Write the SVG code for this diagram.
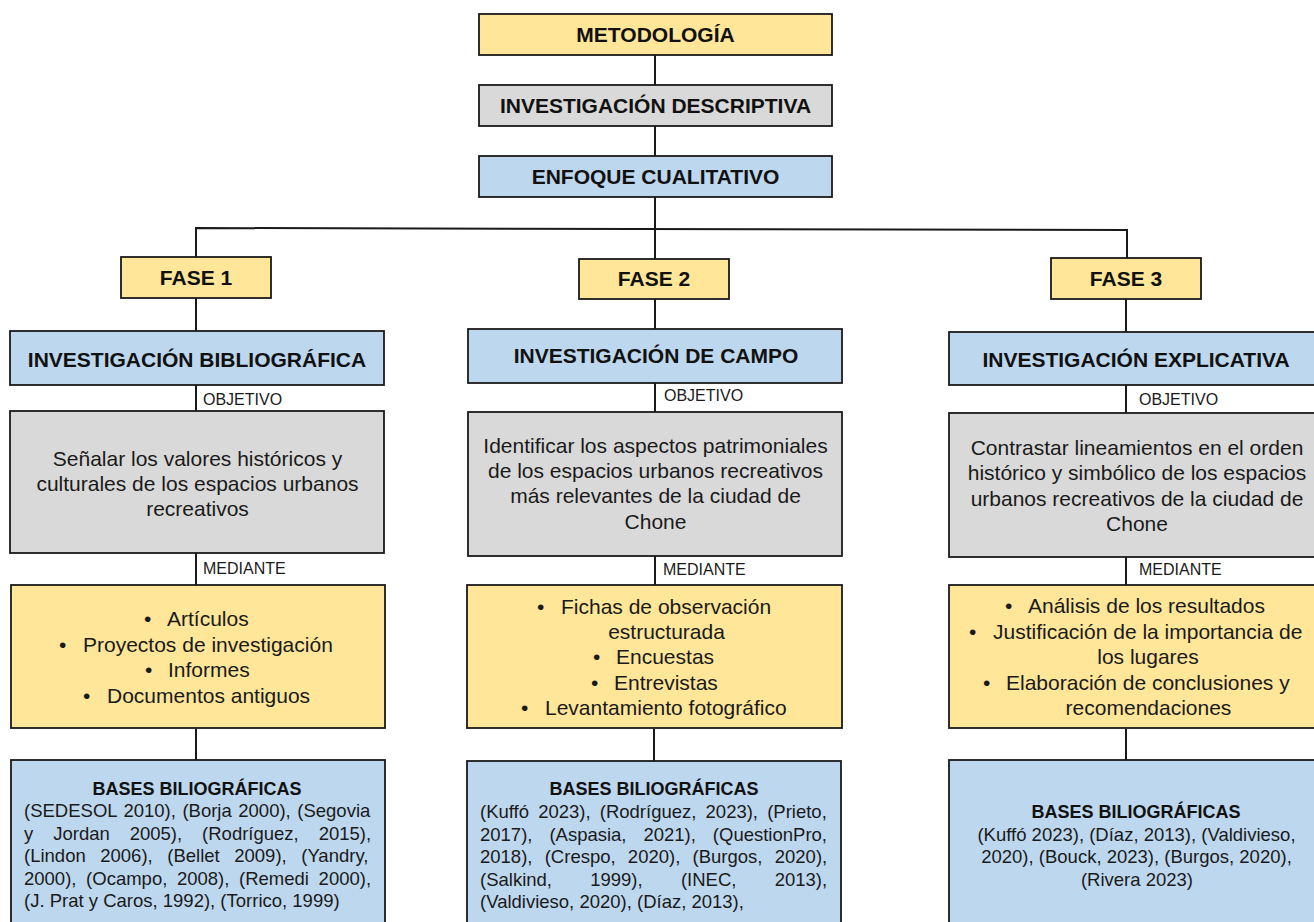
<svg xmlns="http://www.w3.org/2000/svg" width="1314" height="922" viewBox="0 0 1314 922">
<style>
.box{stroke:#1a1a1a;stroke-width:1.8}
.y{fill:#FFE699}.g{fill:#D9D9D9}.b{fill:#BDD7EE}
.h{font-family:"Liberation Sans",Arial,sans-serif;font-weight:bold;font-size:21px;fill:#111;text-anchor:middle}
.t{font-family:"Liberation Sans",Arial,sans-serif;font-size:21px;fill:#1a1a1a;text-anchor:middle}
.l{font-family:"Liberation Sans",Arial,sans-serif;font-size:21px;fill:#1a1a1a}
.s{font-family:"Liberation Sans",Arial,sans-serif;font-size:16px;fill:#1a1a1a}
.bt{font-family:"Liberation Sans",Arial,sans-serif;font-weight:bold;font-size:18px;fill:#111;text-anchor:middle}
.r{font-family:"Liberation Sans",Arial,sans-serif;font-size:18.5px;fill:#1a1a1a}
.conn{fill:none;stroke:#1a1a1a;stroke-width:2}
</style>
<rect width="1314" height="922" fill="#fff"/>
<g id="connectors" class="conn">
<path d="M655,55 V85 M655,126 V156 M655,197 V259"/>
<path d="M196,257 V228 L1127,230 V258"/>
<path d="M196,298 V331 M655,299 V329 M1126,299 V332"/>
<path d="M196,385 V411 M655,383 V412 M1126,385 V413"/>
<path d="M196,553 V585 M655,556 V585 M1126,557 V585"/>
<path d="M196,729 V760 M654,729 V761 M1126,729 V760"/>
</g>
<g id="metodologia"><rect class="box y" x="479" y="14" width="353" height="41"/><text class="h" x="655.5" y="41.5">METODOLOGÍA</text></g>
<g id="descriptiva"><rect class="box g" x="479" y="85" width="353" height="41"/><text class="h" x="655.5" y="112.5">INVESTIGACIÓN DESCRIPTIVA</text></g>
<g id="enfoque"><rect class="box b" x="479" y="156" width="353" height="41"/><text class="h" x="655.5" y="183.5">ENFOQUE CUALITATIVO</text></g>
<g id="fase1"><rect class="box y" x="121" y="257" width="150" height="41"/><text class="h" x="196" y="284.5">FASE 1</text></g>
<g id="fase2"><rect class="box y" x="579" y="259" width="150" height="40"/><text class="h" x="654" y="286">FASE 2</text></g>
<g id="fase3"><rect class="box y" x="1051" y="258" width="150" height="41"/><text class="h" x="1126" y="286">FASE 3</text></g>

<g id="inv-bibliografica"><rect class="box b" x="10" y="331" width="374" height="54"/><text class="h" x="197" y="366.5">INVESTIGACIÓN BIBLIOGRÁFICA</text></g>
<g id="inv-campo"><rect class="box b" x="468" y="329" width="374" height="54"/><text class="h" x="656" y="362.5">INVESTIGACIÓN DE CAMPO</text></g>
<g id="inv-explicativa"><rect class="box b" x="949" y="332" width="374" height="53"/><text class="h" x="1136" y="366.5">INVESTIGACIÓN EXPLICATIVA</text></g>

<g id="labels">
<text class="s" x="203" y="404.7">OBJETIVO</text>
<text class="s" x="664" y="400.7">OBJETIVO</text>
<text class="s" x="1139" y="404.7">OBJETIVO</text>
<text class="s" x="203" y="574">MEDIANTE</text>
<text class="s" x="663" y="575">MEDIANTE</text>
<text class="s" x="1139" y="575">MEDIANTE</text>
</g>

<g id="objetivo1"><rect class="box g" x="10" y="411" width="374" height="142"/>
<text class="t"><tspan x="197.5" y="466">Señalar los valores históricos y</tspan><tspan x="197.5" y="491">culturales de los espacios urbanos</tspan><tspan x="197.5" y="516">recreativos</tspan></text></g>
<g id="objetivo2"><rect class="box g" x="468" y="412" width="374" height="144"/>
<text class="t"><tspan x="655.5" y="453">Identificar los aspectos patrimoniales</tspan><tspan x="655.5" y="478">de los espacios urbanos recreativos</tspan><tspan x="655.5" y="503">más relevantes de la ciudad de</tspan><tspan x="655.5" y="529">Chone</tspan></text></g>
<g id="objetivo3"><rect class="box g" x="949" y="413" width="374" height="144"/>
<text class="t"><tspan x="1137" y="455">Contrastar lineamientos en el orden</tspan><tspan x="1137" y="480">histórico y simbólico de los espacios</tspan><tspan x="1137" y="506">urbanos recreativos de la ciudad de</tspan><tspan x="1137" y="531">Chone</tspan></text></g>

<g id="mediante1"><rect class="box y" x="11" y="585" width="374" height="143"/>
<text class="l"><tspan x="144" y="626">•</tspan><tspan x="167" y="626">Artículos</tspan></text>
<text class="l"><tspan x="59" y="652">•</tspan><tspan x="83" y="652">Proyectos de investigación</tspan></text>
<text class="l"><tspan x="145" y="677">•</tspan><tspan x="168" y="677">Informes</tspan></text>
<text class="l"><tspan x="83" y="703">•</tspan><tspan x="107" y="703">Documentos antiguos</tspan></text>
</g>
<g id="mediante2"><rect class="box y" x="467" y="585" width="375" height="143"/>
<text class="l"><tspan x="537" y="614">•</tspan><tspan x="561" y="614">Fichas de observación</tspan></text>
<text class="t" x="666.5" y="639">estructurada</text>
<text class="l"><tspan x="593" y="664">•</tspan><tspan x="616" y="664">Encuestas</tspan></text>
<text class="l"><tspan x="591" y="690">•</tspan><tspan x="614" y="690">Entrevistas</tspan></text>
<text class="l"><tspan x="521" y="715">•</tspan><tspan x="545" y="715">Levantamiento fotográfico</tspan></text>
</g>
<g id="mediante3"><rect class="box y" x="949" y="585" width="374" height="143"/>
<text class="l"><tspan x="1005" y="613">•</tspan><tspan x="1028" y="613">Análisis de los resultados</tspan></text>
<text class="l"><tspan x="969" y="639">•</tspan><tspan x="993" y="639">Justificación de la importancia de</tspan></text>
<text class="t" x="1148" y="664">los lugares</text>
<text class="l"><tspan x="983" y="690">•</tspan><tspan x="1006" y="690">Elaboración de conclusiones y</tspan></text>
<text class="t" x="1148.5" y="715">recomendaciones</text>
</g>

<g id="bases1"><rect class="box b" x="11" y="760" width="374" height="172"/>
<text class="bt" x="197" y="794.5">BASES BILIOGRÁFICAS</text>
<text class="r" x="24" y="817" word-spacing="1.4">(SEDESOL 2010), (Borja 2000), (Segovia</text>
<text class="r" x="24" y="839.5" word-spacing="14.8">y Jordan 2005), (Rodríguez, 2015),</text>
<text class="r" x="24" y="862" word-spacing="9.4">(Lindon 2006), (Bellet 2009), (Yandry,</text>
<text class="r" x="24" y="884.5" word-spacing="4.5">2000), (Ocampo, 2008), (Remedi 2000),</text>
<text class="r" x="24" y="907">(J. Prat y Caros, 1992), (Torrico, 1999)</text>
</g>
<g id="bases2"><rect class="box b" x="467" y="761" width="374" height="171"/>
<text class="bt" x="654" y="794.5">BASES BILIOGRÁFICAS</text>
<text class="r" x="480" y="818" word-spacing="4.0">(Kuffó 2023), (Rodríguez, 2023), (Prieto,</text>
<text class="r" x="480" y="840.5" word-spacing="11.8">2017), (Aspasia, 2021), (QuestionPro,</text>
<text class="r" x="480" y="863" word-spacing="7.1">2018), (Crespo, 2020), (Burgos, 2020),</text>
<text class="r" x="480" y="885.5" word-spacing="33.1">(Salkind, 1999), (INEC, 2013),</text>
<text class="r" x="480" y="908">(Valdivieso, 2020), (Díaz, 2013),</text>
</g>
<g id="bases3"><rect class="box b" x="949" y="760" width="374" height="172"/>
<text class="bt" x="1136" y="817.5">BASES BILIOGRÁFICAS</text>
<text class="r" text-anchor="middle"><tspan x="1136.5" y="840.5">(Kuffó 2023), (Díaz, 2013), (Valdivieso,</tspan><tspan x="1136.5" y="863">2020), (Bouck, 2023), (Burgos, 2020),</tspan><tspan x="1137" y="885.5">(Rivera 2023)</tspan></text>
</g>
</svg>
